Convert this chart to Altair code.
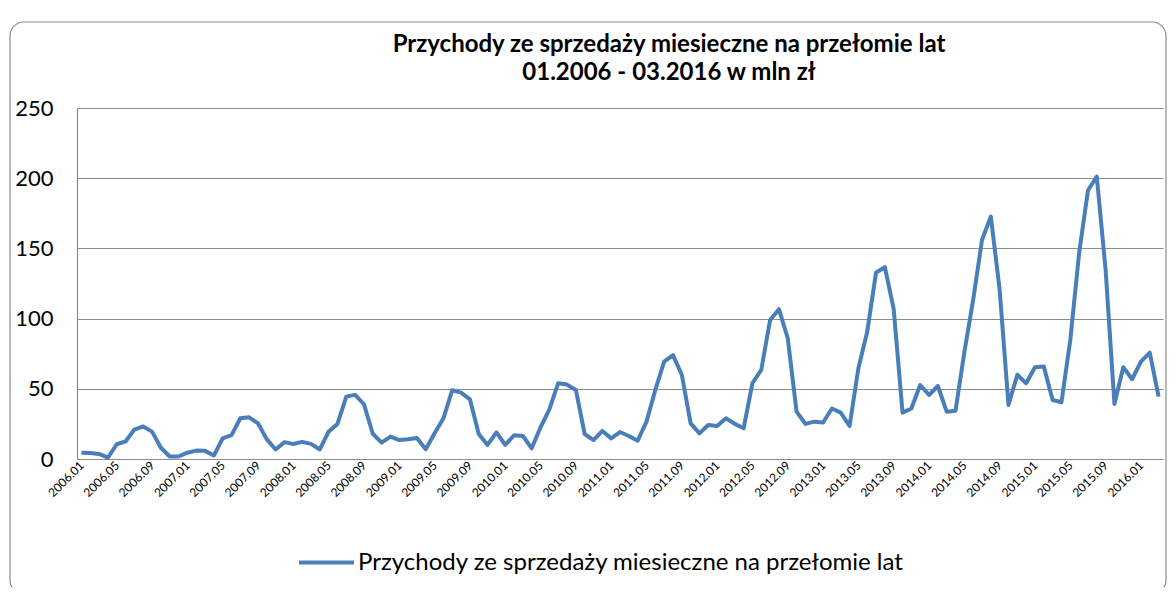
import altair as alt
import pandas as pd

values = [
    4.5, 4.3, 3.6, 1.0, 10.5, 12.5, 21.0, 23.2, 19.5, 8.0, 1.8, 1.8,
    4.5, 6.0, 5.8, 2.5, 14.7, 17.0, 29.0, 29.7, 25.4, 14.0, 6.8, 12.0,
    10.7, 12.2, 10.8, 6.8, 19.5, 25.0, 44.4, 45.7, 39.0, 18.0, 11.6, 16.0,
    13.5, 14.0, 15.0, 7.0, 18.3, 29.0, 49.0, 47.3, 42.5, 17.8, 10.0, 19.0,
    10.0, 16.9, 16.4, 7.6, 22.6, 35.4, 54.0, 53.0, 49.2, 17.8, 13.5, 20.0,
    14.7, 19.2, 16.4, 13.0, 26.6, 49.2, 69.4, 74.0, 60.0, 25.4, 18.3, 24.2,
    23.5, 29.0, 25.0, 21.9, 54.0, 63.4, 99.0, 106.7, 86.0, 33.7, 25.0, 26.6,
    26.0, 36.0, 33.0, 23.5, 64.6, 90.7, 132.8, 136.6, 106.7, 33.0, 36.0, 52.7,
    45.6, 52.0, 33.7, 34.4, 76.0, 113.3, 156.0, 172.7, 120.5, 38.5, 60.0, 54.0,
    65.4, 65.8, 42.0, 40.4, 84.8, 146.6, 191.2, 201.2, 134.7, 39.2, 65.4, 56.8,
    69.4, 75.8, 44.4,
]
months = [f"{2006 + i // 12}.{i % 12 + 1:02d}" for i in range(len(values))]
tick_labels = months[::4]
y_ticks = [0, 50, 100, 150, 200, 250]
series_name = "Przychody ze sprzedaży miesieczne na przełomie lat"
title_lines = ["Przychody ze sprzedaży miesieczne na przełomie lat",
               "01.2006 - 03.2016 w mln zł"]

df = pd.DataFrame({"miesiac": months, "wartosc": values, "seria": series_name})
title_df = pd.DataFrame({"t": title_lines})

FONT = "Lato"
BLUE = "#4a7ebb"

xscale = alt.Scale(domain=months, paddingOuter=0.5)

line = alt.Chart(df).mark_line(strokeWidth=4, strokeJoin="round").encode(
    x=alt.X("miesiac:N", scale=xscale,
            axis=alt.Axis(values=tick_labels, labelAngle=-45, labelAlign="right",
                          labelBaseline="middle", labelFontSize=12, labelPadding=4,
                          labelOverlap=False, ticks=False,
                          domainColor="#8c8c8c", domainWidth=1.2,
                          labelColor="black", title=None, grid=False)),
    y=alt.Y("wartosc:Q", scale=alt.Scale(domain=[0, 250], nice=False),
            axis=alt.Axis(values=y_ticks, labelFontSize=22, labelPadding=24,
                          ticks=False, domainColor="#8c8c8c", domainWidth=1.2,
                          gridColor="#8c8c8c", gridWidth=1.2,
                          labelColor="black", title=None)),
    color=alt.Color("seria:N", scale=alt.Scale(range=[BLUE]),
                    legend=alt.Legend(title=None, orient="none", legendX=220,
                                      legendY=425, symbolType="stroke",
                                      symbolSize=3025, symbolStrokeWidth=4,
                                      labelFontSize=24, labelOffset=2,
                                      labelColor="black", labelLimit=900)),
)

frame = alt.Chart(df.head(1)).mark_rect(
    fill=None, stroke="#8c8c8c", strokeWidth=1.2, cornerRadius=14
).encode(
    x=alt.value(-67), x2=alt.value(1089), y=alt.value(-86), y2=alt.value(486)
)

title1 = alt.Chart(title_df.head(1)).mark_text(
    fontSize=24, fontWeight="bold", font=FONT, color="black", align="center",
    baseline="middle"
).encode(text="t:N", x=alt.value(592), y=alt.value(-63))

title2 = alt.Chart(title_df.tail(1)).mark_text(
    fontSize=24, fontWeight="bold", font=FONT, color="black", align="center",
    baseline="middle"
).encode(text="t:N", x=alt.value(592), y=alt.value(-35))

chart = alt.layer(frame, line, title1, title2).properties(
    width=1086, height=351,
    padding={"left": 69, "top": 100, "right": 5, "bottom": 128},
    autosize=alt.AutoSizeParams(type="none"),
).configure(font=FONT).configure_view(stroke=None)

chart.save("out.html", embed_options={"renderer": "svg", "actions": False})
